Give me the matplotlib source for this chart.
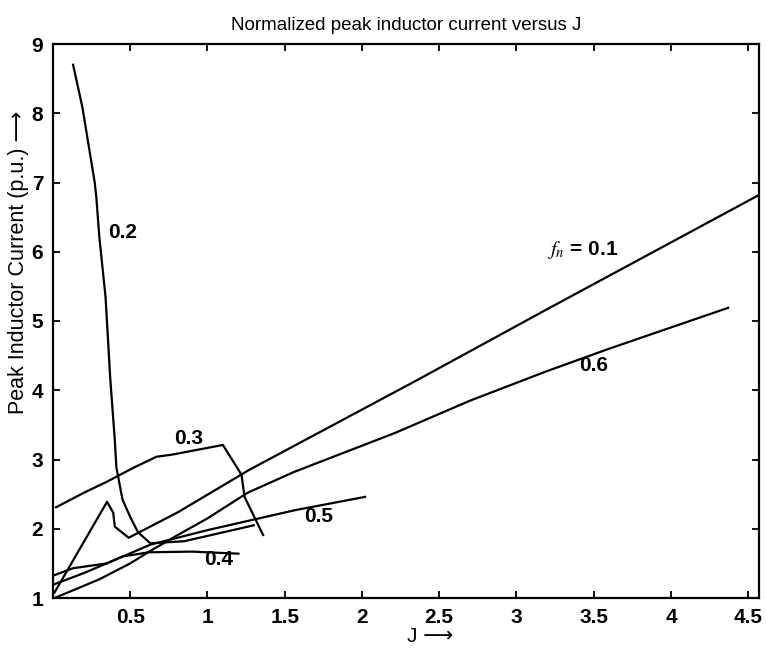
import matplotlib
matplotlib.use("Agg")
import matplotlib.pyplot as plt

plt.rcParams["font.family"] = ["Liberation Sans", "DejaVu Sans"]
plt.rcParams["mathtext.fontset"] = "stix"

# Peak inductor current (p.u.) versus J for several normalized frequencies f_n
j_01 = [0.01, 0.35, 0.39, 0.40, 0.49, 0.81, 1.27, 2.36, 3.19, 4.57]
i_01 = [1.08, 2.39, 2.23, 2.03, 1.87, 2.24, 2.85, 4.15, 5.16, 6.82]

j_02 = [0.13, 0.19, 0.27, 0.28, 0.30, 0.34, 0.37, 0.40, 0.41, 0.45, 0.50, 0.55, 0.63, 0.85, 1.30]
i_02 = [8.70, 8.09, 7.00, 6.80, 6.21, 5.35, 4.19, 3.28, 2.89, 2.42, 2.17, 1.95, 1.79, 1.82, 2.05]

j_03 = [0.02, 0.20, 0.35, 0.52, 0.67, 0.77, 1.10, 1.22, 1.24, 1.36]
i_03 = [2.31, 2.52, 2.68, 2.88, 3.04, 3.07, 3.21, 2.78, 2.46, 1.91]

j_04 = [0.01, 0.13, 0.35, 0.45, 0.62, 0.90, 1.20]
i_04 = [1.33, 1.43, 1.50, 1.60, 1.66, 1.67, 1.64]

j_05 = [0.01, 0.20, 0.40, 0.63, 1.00, 1.57, 2.02]
i_05 = [1.20, 1.36, 1.55, 1.77, 1.98, 2.27, 2.46]

j_06 = [0.01, 0.15, 0.30, 0.50, 0.63, 0.80, 1.00, 1.26, 1.56, 2.21, 2.70, 3.19, 3.60, 4.37]
i_06 = [1.00, 1.13, 1.27, 1.50, 1.68, 1.90, 2.15, 2.52, 2.82, 3.38, 3.85, 4.27, 4.60, 5.19]

curves = [(j_01, i_01), (j_02, i_02), (j_03, i_03), (j_04, i_04), (j_05, i_05), (j_06, i_06)]

# curve labels: (text, J, current)
curve_labels = [
    (r"$f_n$ = 0.1", 3.43, 6.03),
    ("0.2", 0.45, 6.28),
    ("0.3", 0.88, 3.30),
    ("0.4", 1.07, 1.55),
    ("0.5", 1.72, 2.18),
    ("0.6", 3.50, 4.36),
]

x_ticks = [0.5, 1, 1.5, 2, 2.5, 3, 3.5, 4, 4.5]
x_tick_labels = ["0.5", "1", "1.5", "2", "2.5", "3", "3.5", "4", "4.5"]
y_ticks = [1, 2, 3, 4, 5, 6, 7, 8, 9]

fig = plt.figure(figsize=(7.66, 6.53), dpi=100)
ax = fig.add_axes([53 / 766, 1 - 598 / 653, (759 - 53) / 766, (598 - 44) / 653])

for jv, iv in curves:
    ax.plot(jv, iv, color="black", linewidth=1.6, solid_joinstyle="round")

for text, xj, yi in curve_labels:
    ax.text(xj, yi, text, fontsize=15, fontweight="semibold", ha="center", va="center")

ax.set_xlim(0, 4.57)
ax.set_ylim(1, 9)
ax.set_xticks(x_ticks)
ax.set_xticklabels(x_tick_labels)
ax.set_yticks(y_ticks)
ax.tick_params(direction="in", length=5, width=1.3, top=True, right=True,
               labelsize=15, pad=7)
for lbl in ax.get_xticklabels() + ax.get_yticklabels():
    lbl.set_fontweight("bold")
for sp in ax.spines.values():
    sp.set_linewidth(1.6)

ax.set_title("Normalized peak inductor current versus J", fontsize=13.5, pad=10)
fig.text(430 / 766, 1 - 636 / 653, "J \u27f6", fontsize=15, ha="center", va="center")
fig.text(19 / 766, 1 - 262 / 653, "Peak Inductor Current (p.u.) \u27f6", fontsize=15.5,
         rotation=90, ha="center", va="center")

fig.savefig("out.png", dpi=100)
